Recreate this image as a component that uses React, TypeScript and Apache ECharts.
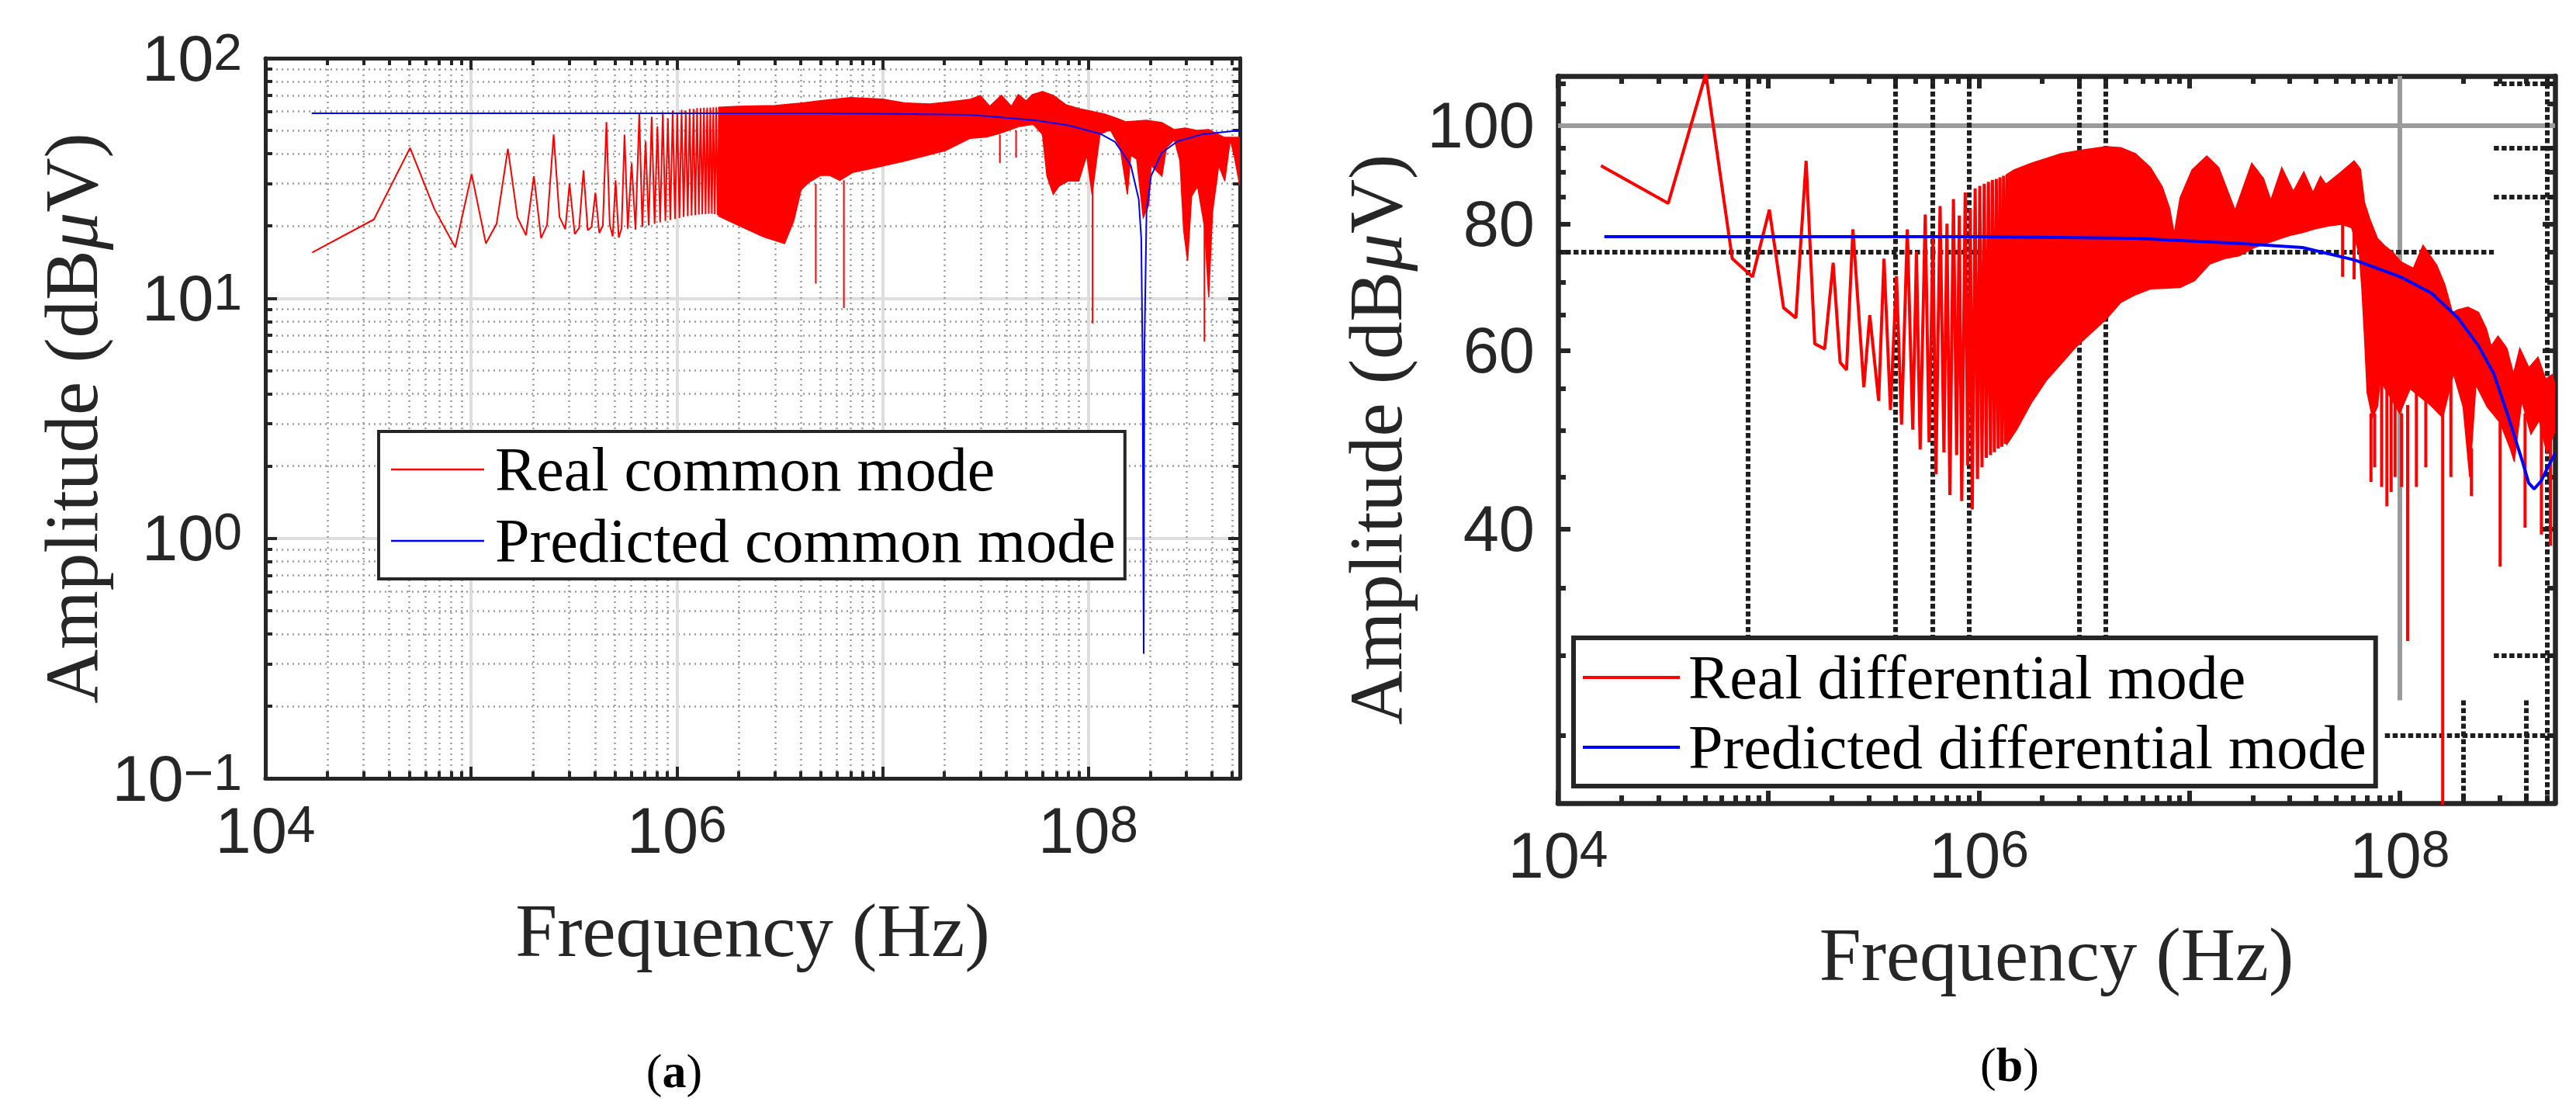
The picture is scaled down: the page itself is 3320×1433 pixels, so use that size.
import React, { useEffect, useRef } from 'react';
import * as echarts from 'echarts';

// ---------- (a) common mode: values, [Hz, dBuV] ----------
const cmLowFreq: number[][] = [
  [1.69e4, 15.5], [3.37e4, 21.3], [5.05e4, 42.3], [6.65e4, 23.4], [8.38e4, 16.3],
  [1.006e5, 32.9], [1.18e5, 16.9], [1.33e5, 20.4], [1.51e5, 42.0], [1.68e5, 21.7],
  [1.85e5, 18.3], [2.02e5, 32.2], [2.19e5, 17.8], [2.34e5, 20.2], [2.52e5, 48.1],
  [2.69e5, 21.8], [2.87e5, 19.4], [3.01e5, 30.0], [3.19e5, 18.5], [3.35e5, 19.6],
  [3.52e5, 34.1], [3.69e5, 19.2], [3.85e5, 19.8], [4.02e5, 27.5], [4.2e5, 18.7],
  [4.37e5, 20.1], [4.55e5, 54.2], [4.72e5, 20.3], [4.88e5, 18.1], [5.04e5, 31.0],
  [5.22e5, 17.9], [5.39e5, 19.6], [5.57e5, 48.0], [5.78e5, 19.5], [6.03e5, 36.5],
  [6.3e5, 19.3], [6.57e5, 58.9], [6.8e5, 19.8], [7.05e5, 45.0], [7.3e5, 20.1],
  [7.55e5, 57.0], [7.8e5, 20.4], [8.05e5, 52.0], [8.3e5, 20.7], [8.55e5, 59.5],
  [8.8e5, 21.0], [9.05e5, 56.0], [9.3e5, 21.2], [9.55e5, 60.5], [9.8e5, 21.4],
  [1.005e6, 59.0], [1.03e6, 21.6], [1.055e6, 61.0], [1.08e6, 21.8], [1.105e6, 60.5],
  [1.13e6, 22.0], [1.155e6, 61.5], [1.18e6, 22.1], [1.205e6, 61.5], [1.23e6, 22.2],
  [1.255e6, 62.0], [1.28e6, 22.3], [1.305e6, 62.0], [1.33e6, 22.4], [1.355e6, 62.2],
  [1.38e6, 22.4], [1.405e6, 62.2], [1.43e6, 22.5], [1.455e6, 62.3], [1.48e6, 22.5],
  [1.505e6, 62.4], [1.53e6, 22.4], [1.555e6, 62.5], [1.58e6, 22.2], [1.605e6, 62.5],
];

const cmBandUpper: number[][] = [
  [1.6e6, 62.5], [2e6, 63.0], [3e6, 63.5], [4e6, 65.0], [5e6, 66.5],
  [7e6, 68.5], [1e7, 67.5], [1.3e7, 65.0], [1.7e7, 64.5], [2.2e7, 66.0], [2.67e7, 67.4],
  [2.99e7, 69.9], [3.32e7, 63.0], [3.78e7, 70.0], [4.23e7, 63.0], [4.57e7, 70.5],
  [4.99e7, 66.4], [5.35e7, 70.5], [5.99e7, 72.6], [6.76e7, 70.0], [7.78e7, 64.0],
  [9.0e7, 61.7], [1.2e8, 58.5], [1.36e8, 56.4], [1.52e8, 54.3], [1.92e8, 55.1],
  [2.28e8, 53.9], [2.62e8, 50.4], [2.96e8, 51.2], [3.4e8, 50.0], [3.85e8, 50.4],
  [4.57e8, 46.8], [5.46e8, 46.8],
];

const cmBandLower: number[][] = [
  [1.6e6, 22.0], [2.0e6, 20.1], [2.65e6, 18.0], [3.34e6, 16.9],
  [3.7e6, 21.0], [4.02e6, 28.3], [4.4e6, 30.5], [5.0e6, 32.5], [5.54e6, 32.5],
  [6.2e6, 31.0], [7.2e6, 33.5], [8.77e6, 34.7], [1.27e7, 37.2], [2.02e7, 41.2],
  [2.67e7, 46.4], [3.2e7, 47.0], [3.7e7, 48.6], [4.6e7, 51.9], [5.4e7, 53.0],
  [5.99e7, 48.2], [6.3e7, 32.3], [6.76e7, 27.1], [7.2e7, 29.3], [8.0e7, 30.8],
  [9.0e7, 30.8], [9.83e7, 39.4], [1.044e8, 27.1], [1.14e8, 48.2], [1.28e8, 50.4],
  [1.43e8, 42.4], [1.55e8, 27.1], [1.61e8, 39.4], [1.72e8, 38.0], [1.85e8, 21.7],
  [1.97e8, 24.6], [2.02e8, 35.8], [2.28e8, 32.3], [2.4e8, 42.4], [2.62e8, 45.8],
  [2.79e8, 37.5], [2.91e8, 19.2], [3.04e8, 14.3], [3.18e8, 26.6], [3.4e8, 29.3],
  [3.68e8, 19.7], [3.85e8, 10.1], [4.02e8, 22.9], [4.31e8, 35.8], [4.61e8, 30.8],
  [4.9e8, 45.8], [5.12e8, 39.4], [5.46e8, 29.3],
];

// narrow dips: [Hz, from, to]
const cmSpikes: number[][] = [
  [4.74e6, 30.0, 11.5], [6.49e6, 31.0, 9.1], [3.72e7, 48.0, 36.6],
  [4.46e7, 50.0, 38.6], [1.05e8, 40.0, 7.85], [3.67e8, 22.0, 6.6],
];

const cmPredicted: number[][] = [
  [1.68e4, 59.0], [1e5, 59.0], [1e6, 59.0], [5e6, 58.9], [1e7, 58.7], [2.67e7, 58.1],
  [5.5e7, 55.1], [8e7, 52.5], [1.14e8, 48.5], [1.35e8, 44.8], [1.61e8, 35.8],
  [1.76e8, 25.8], [1.81e8, 17.8], [1.835e8, 6.0], [1.86e8, 0.33], [1.875e8, 6.0],
  [1.92e8, 22.9], [2.02e8, 32.3], [2.28e8, 40.4], [2.72e8, 45.1], [3.6e8, 48.2],
  [5.46e8, 50.0],
];

// ---------- (b) differential mode ----------
const dmLowFreq: number[][] = [
  [1.6e4, 91.3], [3.34e4, 83.8], [5.04e4, 112.5], [6.73e4, 73.9], [8.4e4, 70.9],
  [1.01e5, 82.6], [1.18e5, 66.1], [1.35e5, 64.6], [1.51e5, 92.3], [1.66e5, 60.9],
  [1.85e5, 60.2], [2.03e5, 73.2], [2.19e5, 58.4], [2.35e5, 57.4], [2.52e5, 79.0],
  [2.84e5, 55.2], [3.03e5, 65.0], [3.34e5, 53.5], [3.54e5, 73.9], [3.8e5, 52.4],
  [4.06e5, 71.0], [4.29e5, 50.7], [4.57e5, 79.0], [4.85e5, 50.1], [5.05e5, 75.1],
  [5.26e5, 47.9], [5.56e5, 81.7], [5.8e5, 48.7], [6.05e5, 78.0], [6.25e5, 45.3],
  [6.54e5, 83.3], [6.82e5, 47.6], [7.05e5, 80.0], [7.28e5, 43.2], [7.57e5, 84.6],
  [7.84e5, 47.3], [8.07e5, 81.5], [8.29e5, 42.6], [8.61e5, 85.9], [8.85e5, 46.2],
  [9.1e5, 82.8], [9.3e5, 41.8], [9.6e5, 86.7], [9.85e5, 44.8], [1.01e6, 87.2],
  [1.035e6, 46.0], [1.06e6, 87.6], [1.085e6, 47.0], [1.11e6, 88.0], [1.135e6, 47.3],
  [1.16e6, 88.4], [1.185e6, 47.6], [1.21e6, 88.6], [1.235e6, 48.0], [1.26e6, 88.9],
  [1.285e6, 48.2], [1.31e6, 89.2], [1.335e6, 48.5], [1.36e6, 89.5],
];

const dmBandUpper: number[][] = [
  [1.36e6, 89.5], [1.47e6, 90.4], [1.78e6, 91.8], [2.46e6, 93.8], [3.2e6, 94.7],
  [4.02e6, 95.3], [4.72e6, 95.1], [5.56e6, 93.8], [6.54e6, 90.9], [7.44e6, 87.0],
  [8.07e6, 82.8], [8.48e6, 78.2], [9.04e6, 84.9], [1.03e7, 90.4], [1.21e7, 93.3],
  [1.38e7, 90.9], [1.65e7, 82.5], [1.98e7, 91.8], [2.25e7, 88.7], [2.44e7, 84.4],
  [2.75e7, 90.9], [3.12e7, 86.1], [3.5e7, 90.0], [3.87e7, 85.9], [4.2e7, 89.1],
  [4.45e7, 87.5], [5.2e7, 89.8], [6.07e7, 92.3], [6.5e7, 90.6], [6.8e7, 84.0],
  [7.2e7, 80.9], [7.83e7, 77.4], [8.53e7, 76.0], [9.29e7, 75.0], [1.01e8, 73.4],
  [1.16e8, 72.3], [1.29e8, 76.2], [1.5e8, 72.8], [1.64e8, 69.6], [1.78e8, 65.4],
  [1.89e8, 65.8], [2.11e8, 66.2], [2.37e8, 65.4], [2.58e8, 63.0], [2.72e8, 60.6],
  [2.93e8, 62.0], [3.23e8, 60.3], [3.47e8, 56.9], [3.72e8, 60.3], [4.11e8, 57.7],
  [4.54e8, 59.1], [4.94e8, 56.2], [5.3e8, 56.8], [5.47e8, 55.5],
];

const dmBandLower: number[][] = [
  [1.36e6, 48.5], [1.51e6, 50.1], [1.78e6, 53.3], [2.1e6, 56.1], [2.46e6, 58.2],
  [2.9e6, 60.5], [3.41e6, 62.4], [4.02e6, 64.4], [4.72e6, 66.9], [5.56e6, 68.1],
  [6.54e6, 69.0], [9.04e6, 69.2], [1.06e7, 70.3], [1.25e7, 73.0], [1.47e7, 73.9],
  [1.73e7, 74.4], [2.04e7, 75.8], [2.4e7, 76.7], [2.99e7, 77.9], [3.45e7, 78.4],
  [3.97e7, 79.1], [4.58e7, 79.6], [5.28e7, 79.9], [5.9e7, 79.3], [6.43e7, 74.6],
  [6.6e7, 69.2], [6.8e7, 61.8], [7.0e7, 54.5], [7.41e7, 51.5], [7.84e7, 52.8],
  [8.07e7, 56.0], [9.0e7, 54.0], [1.0e8, 52.0], [1.12e8, 55.0], [1.25e8, 54.0],
  [1.4e8, 53.0], [1.6e8, 51.5], [1.8e8, 56.9], [2.0e8, 52.8], [2.15e8, 45.0],
  [2.3e8, 55.5], [2.6e8, 52.8], [3.0e8, 50.9], [3.35e8, 48.0], [3.5e8, 46.6],
  [3.8e8, 53.5], [4.2e8, 49.6], [4.6e8, 51.2], [5.0e8, 47.5], [5.47e8, 50.0],
];

const dmSpikes: number[][] = [
  [5.35e7, 79.9, 70.9], [6.07e7, 79.3, 70.5], [7.3e7, 52.0, 44.5], [7.6e7, 52.0, 46.0],
  [8.2e7, 56.0, 44.0], [8.69e7, 55.0, 42.1], [9.1e7, 54.0, 43.5], [9.5e7, 54.0, 45.0],
  [1.02e8, 52.0, 44.0], [1.09e8, 53.0, 31.0], [1.2e8, 55.0, 44.0], [1.33e8, 54.0, 46.0],
  [1.6e8, 52.0, 15.0], [1.75e8, 56.0, 45.0], [2.19e8, 48.0, 43.1], [3.0e8, 51.0, 36.7],
  [3.94e8, 52.0, 40.1], [4.71e8, 51.0, 39.5], [5.2e8, 49.0, 38.5],
];

const dmPredicted: number[][] = [
  [1.66e4, 77.7], [1e5, 77.7], [1e6, 77.7], [5.47e6, 77.4], [1.06e7, 76.9],
  [1.73e7, 76.5], [3.45e7, 75.8], [6.07e7, 73.7], [1.01e8, 70.9], [1.42e8, 68.3],
  [1.89e8, 64.6], [2.37e8, 60.6], [2.8e8, 56.9], [3.32e8, 51.2], [3.83e8, 46.6],
  [4.1e8, 44.4], [4.35e8, 43.8], [4.7e8, 44.6], [5.0e8, 45.8], [5.47e8, 47.5],
];

// the broken grid of panel (b): [x1, y1, x2, y2]
const dmSolidGrid: number[][] = [
  [1e4, 100, 5.47e8, 100],
  [1e8, 111.9, 1e8, 27.1],
];
const dmDottedGrid: number[][] = [
  [8e4, 111.9, 8e4, 31.3], [4e5, 111.9, 4e5, 31.3], [6e5, 111.9, 6e5, 31.3],
  [9e5, 111.9, 9e5, 31.3], [3e6, 111.9, 3e6, 31.3], [4e6, 111.9, 4e6, 31.3],
  [2e8, 27.1, 2e8, 21.45], [4e8, 27.1, 4e8, 21.45], [5e8, 111.9, 5e8, 21.45],
  [1e4, 75, 2.8e8, 75], [2.8e8, 110, 5.47e8, 110], [2.8e8, 95, 5.47e8, 95],
  [2.8e8, 85, 5.47e8, 85], [2.8e8, 30, 5.47e8, 30], [8.5e7, 25, 5.47e8, 25],
];

// ticks
const decadeTicks = [1e4, 1e5, 1e6, 1e7, 1e8];
const decadeLabels = [1e4, 1e6, 1e8];
const minorFreqTicks = [
  2e4, 3e4, 4e4, 5e4, 6e4, 7e4, 8e4, 9e4,
  2e5, 3e5, 4e5, 5e5, 6e5, 7e5, 8e5, 9e5,
  2e6, 3e6, 4e6, 5e6, 6e6, 7e6, 8e6, 9e6,
  2e7, 3e7, 4e7, 5e7, 6e7, 7e7, 8e7, 9e7,
  2e8, 3e8, 4e8, 5e8,
];
const cmAmpTicks = [0.1, 1, 10, 100];
const cmAmpMinor = [
  0.2, 0.3, 0.4, 0.5, 0.6, 0.7, 0.8, 0.9,
  2, 3, 4, 5, 6, 7, 8, 9,
  20, 30, 40, 50, 60, 70, 80, 90,
];
const dmAmpTicks = [40, 60, 80, 100];
const dmAmpMinor = [25, 30, 35, 45, 50, 55, 65, 70, 75, 85, 90, 95, 105, 110];

const INK = '#262626';
const RED = '#ff0000';
const BLUE = '#0000ff';
const SERIF = '"Liberation Serif", "Times New Roman", serif';
const SANS = '"Liberation Sans", Arial, Helvetica, sans-serif';

const tickRich = {
  b: { fontFamily: SANS, fontSize: 83, lineHeight: 83, color: INK, padding: [32, 0, 0, 0], verticalAlign: 'bottom' },
  s: { fontFamily: SANS, fontSize: 66, lineHeight: 79, color: INK, verticalAlign: 'top' },
  n: { fontFamily: SANS, fontSize: 83, lineHeight: 83, color: INK },
};

const powerLabel = (v: number) => {
  const e = Math.round(Math.log10(v));
  return `{b|10}{s|${e < 0 ? '\u2212' + -e : e}}`;
};
const plainLabel = (v: number) => `{n|${Math.round(v)}}`;

const nameStyle = {
  fontFamily: SERIF,
  fontSize: 97,
  color: INK,
  rich: { mu: { fontFamily: SERIF, fontSize: 97, fontStyle: 'italic', color: INK } },
};

interface Frame {
  grid: number;
  line: number;
  tick: number;
  major: number;
  minor: number;
  majorGrid: boolean;
  minorGrid: boolean;
}

const majorGridLine = { show: true, lineStyle: { color: '#dedede', width: 4 } };
const minorGridLine = { show: true, lineStyle: { color: '#9c9c9c', width: 2.5, type: [2, 5] } };

function axisSet(
  f: Frame,
  dim: 'x' | 'y',
  min: number,
  max: number,
  majors: number[],
  minors: number[],
  label: { values: number[]; formatter: (v: number) => string; margin: number },
  name: string,
  nameGap: number,
) {
  const [near, far] = dim === 'x' ? ['bottom', 'top'] : ['left', 'right'];
  const base = { type: 'log', logBase: 10, gridIndex: f.grid, min, max, silent: true };
  const tick = (values: number[], length: number) => ({
    show: true,
    inside: true,
    length,
    customValues: values,
    lineStyle: { color: INK, width: f.tick },
  });
  const line = { show: true, onZero: false, lineStyle: { color: INK, width: f.line } };
  return [
    {
      ...base,
      position: near,
      axisLine: line,
      axisTick: tick(majors, f.major),
      axisLabel: {
        show: true,
        customValues: label.values,
        margin: label.margin,
        formatter: label.formatter,
        rich: tickRich,
        fontFamily: SANS,
        fontSize: 83,
        color: INK,
      },
      splitLine: f.majorGrid ? majorGridLine : { show: false },
      name,
      nameLocation: 'middle',
      nameGap,
      nameRotate: dim === 'y' ? 90 : 0,
      nameTextStyle: nameStyle,
    },
    {
      ...base,
      position: near,
      axisLine: { show: false },
      axisTick: tick(minors, f.minor),
      axisLabel: { show: false },
      splitLine: f.minorGrid ? minorGridLine : { show: false },
    },
    {
      ...base,
      position: far,
      axisLine: line,
      axisTick: tick(majors, f.major),
      axisLabel: { show: false },
      splitLine: { show: false },
    },
    {
      ...base,
      position: far,
      axisLine: { show: false },
      axisTick: tick(minors, f.minor),
      axisLabel: { show: false },
      splitLine: { show: false },
    },
  ];
}

const bandRenderer = (upper: number[][], lower: number[][]) => (params: any, api: any) => {
  const points = [...upper, ...lower.slice().reverse()].map((p) => api.coord(p));
  const cs = params.coordSys;
  return {
    type: 'polygon',
    shape: { points },
    style: { fill: RED, stroke: RED, lineWidth: 1.5 },
    clipPath: { type: 'rect', shape: { x: cs.x, y: cs.y, width: cs.width, height: cs.height } },
  };
};

const spikeData = (spikes: number[][]) =>
  spikes.flatMap(([f, from, to]) => [[f, from], [f, to], [f, '-']]);

const segmentLines = (segments: number[][], lineStyle: object) =>
  segments.map(([x1, y1, x2, y2]) => [{ coord: [x1, y1], lineStyle }, { coord: [x2, y2] }]);

function panelSeries(
  axis: number,
  realName: string,
  predName: string,
  low: number[][],
  upper: number[][],
  lower: number[][],
  spikes: number[][],
  predicted: number[][],
  redWidth: number,
  blueWidth: number,
  marks?: object,
) {
  const common = { xAxisIndex: axis, yAxisIndex: axis, symbol: 'none', silent: true, animation: false };
  return [
    {
      ...common,
      type: 'line',
      name: realName,
      data: low,
      z: 3,
      lineStyle: { color: RED, width: redWidth },
      itemStyle: { color: RED },
    },
    {
      type: 'custom',
      name: realName,
      xAxisIndex: axis,
      yAxisIndex: axis,
      data: [upper[0]],
      encode: { x: 0, y: 1 },
      renderItem: bandRenderer(upper, lower),
      silent: true,
      z: 2,
      itemStyle: { color: RED },
    },
    {
      ...common,
      type: 'line',
      name: realName,
      data: spikeData(spikes),
      connectNulls: false,
      z: 3,
      lineStyle: { color: RED, width: redWidth },
      itemStyle: { color: RED },
    },
    {
      ...common,
      type: 'line',
      name: predName,
      data: predicted,
      z: 4,
      lineStyle: { color: BLUE, width: blueWidth },
      itemStyle: { color: BLUE },
      markLine: marks,
    },
  ];
}

const cmFrame: Frame = { grid: 0, line: 5, tick: 4, major: 15, minor: 9, majorGrid: true, minorGrid: true };
const dmFrame: Frame = { grid: 1, line: 6.5, tick: 6, major: 16, minor: 10, majorGrid: false, minorGrid: false };

const yName = 'Amplitude (dB{mu|\u03bc}V)';

const legendBase = {
  orient: 'vertical',
  icon: 'rect',
  selectedMode: false,
  backgroundColor: '#ffffff',
  borderColor: INK,
  z: 10,
  itemStyle: { borderWidth: 0 },
};

const option = {
  animation: false,
  backgroundColor: '#ffffff',
  grid: [
    { left: 342, top: 75, width: 1256, height: 928, outerBoundsMode: 'none' },
    { left: 2008, top: 98, width: 1285, height: 937, outerBoundsMode: 'none' },
  ],
  xAxis: [
    ...axisSet(cmFrame, 'x', 1e4, 5.46e8, decadeTicks, minorFreqTicks,
      { values: decadeLabels, formatter: powerLabel, margin: 26 }, 'Frequency (Hz)', 148),
    ...axisSet(dmFrame, 'x', 1e4, 5.47e8, decadeTicks, minorFreqTicks,
      { values: decadeLabels, formatter: powerLabel, margin: 26 }, 'Frequency (Hz)', 147),
  ],
  yAxis: [
    ...axisSet(cmFrame, 'y', 0.1, 100, cmAmpTicks, cmAmpMinor,
      { values: cmAmpTicks, formatter: powerLabel, margin: 30 }, yName, 199),
    ...axisSet(dmFrame, 'y', 21.45, 111.9, dmAmpTicks, dmAmpMinor,
      { values: dmAmpTicks, formatter: plainLabel, margin: 30 }, yName, 186),
  ],
  legend: [
    {
      ...legendBase,
      left: 488,
      top: 556,
      padding: [9, 12, 9, 16],
      itemGap: 12,
      itemWidth: 120,
      itemHeight: 2.5,
      borderWidth: 4,
      textStyle: { fontFamily: SERIF, fontSize: 80, lineHeight: 80, color: '#000', padding: [0, 0, 0, 9] },
      data: ['Real common mode', 'Predicted common mode'],
    },
    {
      ...legendBase,
      left: 2028,
      top: 822,
      padding: [11, 12, 10, 12],
      itemGap: 10,
      itemWidth: 125,
      itemHeight: 4,
      borderWidth: 6,
      textStyle: { fontFamily: SERIF, fontSize: 80, lineHeight: 80, color: '#000', padding: [0, 0, 0, 6] },
      data: ['Real differential mode', 'Predicted differential mode'],
    },
  ],
  series: [
    ...panelSeries(0, 'Real common mode', 'Predicted common mode', cmLowFreq, cmBandUpper,
      cmBandLower, cmSpikes, cmPredicted, 2, 2),
    ...panelSeries(4, 'Real differential mode', 'Predicted differential mode', dmLowFreq,
      dmBandUpper, dmBandLower, dmSpikes, dmPredicted, 4, 4, {
        silent: true,
        z: 1,
        symbol: ['none', 'none'],
        label: { show: false },
        animation: false,
        data: [
          ...segmentLines(dmSolidGrid, { color: '#9a9a9a', width: 6, type: 'solid' }),
          ...segmentLines(dmDottedGrid, { color: '#1e1e1e', width: 6, type: [6.5, 3.5] }),
        ],
      }),
  ],
  graphic: [
    {
      type: 'text',
      x: 869,
      y: 1380,
      style: {
        text: '({b|a})',
        fontFamily: SERIF,
        fontSize: 62,
        fill: '#000',
        align: 'center',
        verticalAlign: 'middle',
        rich: { b: { fontFamily: SERIF, fontSize: 62, fontWeight: 'bold' } },
      },
    },
    {
      type: 'text',
      x: 2590,
      y: 1372,
      style: {
        text: '({b|b})',
        fontFamily: SERIF,
        fontSize: 62,
        fill: '#000',
        align: 'center',
        verticalAlign: 'middle',
        rich: { b: { fontFamily: SERIF, fontSize: 62, fontWeight: 'bold' } },
      },
    },
  ],
};

export default function App() {
  const ref = useRef<HTMLDivElement>(null);

  useEffect(() => {
    if (!ref.current) return;
    const chart = echarts.init(ref.current, null, { renderer: 'svg' });
    chart.setOption(option as any);
    return () => {
      chart.dispose();
    };
  }, []);

  return (
    <div
      ref={ref}
      style={{ position: 'absolute', left: 0, top: 0, width: 3320, height: 1433, background: '#fff' }}
    />
  );
}
